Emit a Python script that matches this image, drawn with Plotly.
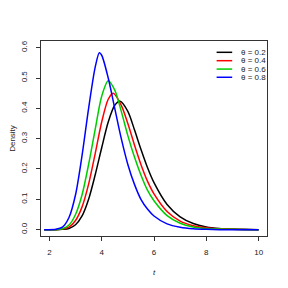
import plotly.graph_objects as go

# density readings for each theta
t_02 = [1.8, 2.25, 2.5, 2.75, 3.0, 3.25, 3.5, 3.75, 4.0, 4.25, 4.5, 4.7, 5.0, 5.25, 5.5, 5.75, 6.0, 6.5, 7.0, 7.5, 8.0, 8.5, 9.0, 9.5, 10.0]
d_02 = [0.0, 0.0, 0.001, 0.004, 0.016, 0.045, 0.10, 0.18, 0.27, 0.355, 0.41, 0.423, 0.39, 0.33, 0.265, 0.205, 0.155, 0.083, 0.042, 0.02, 0.009, 0.004, 0.002, 0.001, 0.0]

t_04 = [1.8, 2.25, 2.5, 2.75, 3.0, 3.25, 3.5, 3.75, 4.0, 4.25, 4.44, 4.75, 5.0, 5.25, 5.5, 5.75, 6.0, 6.5, 7.0, 7.5, 8.0, 8.5, 9.0, 9.5, 10.0]
d_04 = [0.0, 0.0, 0.002, 0.008, 0.03, 0.075, 0.15, 0.25, 0.355, 0.43, 0.45, 0.41, 0.35, 0.28, 0.215, 0.16, 0.118, 0.06, 0.028, 0.013, 0.006, 0.003, 0.001, 0.0, 0.0]

t_06 = [1.8, 2.25, 2.5, 2.75, 3.0, 3.25, 3.5, 3.75, 4.0, 4.25, 4.5, 4.75, 5.0, 5.25, 5.5, 5.75, 6.0, 6.5, 7.0, 7.5, 8.0, 8.5, 9.0, 9.5, 10.0]
d_06 = [0.0, 0.0, 0.003, 0.015, 0.05, 0.115, 0.215, 0.33, 0.44, 0.491, 0.46, 0.39, 0.31, 0.24, 0.18, 0.13, 0.095, 0.046, 0.021, 0.009, 0.004, 0.002, 0.001, 0.0, 0.0]

t_08 = [1.8, 2.25, 2.5, 2.75, 3.0, 3.25, 3.5, 3.75, 3.91, 4.0, 4.25, 4.5, 4.75, 5.0, 5.25, 5.5, 5.75, 6.0, 6.5, 7.0, 7.5, 8.0, 8.5, 9.0, 10.0]
d_08 = [0.0, 0.001, 0.008, 0.04, 0.115, 0.245, 0.40, 0.535, 0.583, 0.575, 0.50, 0.40, 0.30, 0.215, 0.15, 0.10, 0.068, 0.045, 0.019, 0.008, 0.003, 0.001, 0.0, 0.0, 0.0]

labels = ["θ = 0.2", "θ = 0.4", "θ = 0.6", "θ = 0.8"]
colors = ["#000000", "#FF0000", "#00CD00", "#0000FF"]
series = [(t_02, d_02), (t_04, d_04), (t_06, d_06), (t_08, d_08)]

x_ticks = [2, 4, 6, 8, 10]
y_ticks = [0.0, 0.1, 0.2, 0.3, 0.4, 0.5, 0.6]

fig = go.Figure()
for (tx, dy), lab, col in zip(series, labels, colors):
    fig.add_trace(go.Scatter(x=tx, y=dy, mode="lines", name=lab, showlegend=False,
                             line=dict(color=col, width=1.5, shape="spline", smoothing=0.8)))

# compact legend drawn in paper coordinates (top right, no box)
row_y = [0.942, 0.899, 0.856, 0.814]
for lab, col, ry in zip(labels, colors, row_y):
    fig.add_shape(type="line", xref="paper", yref="paper", x0=0.777, x1=0.846, y0=ry, y1=ry,
                  line=dict(color=col, width=1.5))
    fig.add_annotation(xref="paper", yref="paper", x=0.876, y=ry, text=lab, showarrow=False,
                       xanchor="left", yanchor="middle", font=dict(size=8, color="#222222"))

axis_common = dict(showline=True, linecolor="#333333", linewidth=1, mirror=True,
                   ticks="outside", ticklen=4, tickcolor="#333333", showgrid=False,
                   zeroline=False, automargin=False, tickfont=dict(size=8, color="#222222"))

# page body has an 8px margin, so the figure is 272px and offset accordingly
fig.update_layout(
    width=272, height=272,
    margin=dict(l=33, r=13, t=33, b=44),
    paper_bgcolor="white", plot_bgcolor="white",
    font=dict(family="Liberation Sans, Arial, sans-serif", size=8, color="#222222"),
    xaxis=dict(range=[1.68, 10.32], tickvals=x_ticks, ticktext=[str(v) for v in x_ticks],
               ticklabelstandoff=4,
               title=dict(text="<i>t</i>", font=dict(size=8), standoff=13), **axis_common),
    yaxis=dict(range=[-0.021, 0.622], tickvals=y_ticks, ticktext=[f"{v:.1f}" for v in y_ticks],
               tickangle=-90, ticklabelstandoff=6,
               title=dict(text="Density", font=dict(size=8), standoff=5), **axis_common),
    showlegend=False,
)

fig.write_html("out.html")
